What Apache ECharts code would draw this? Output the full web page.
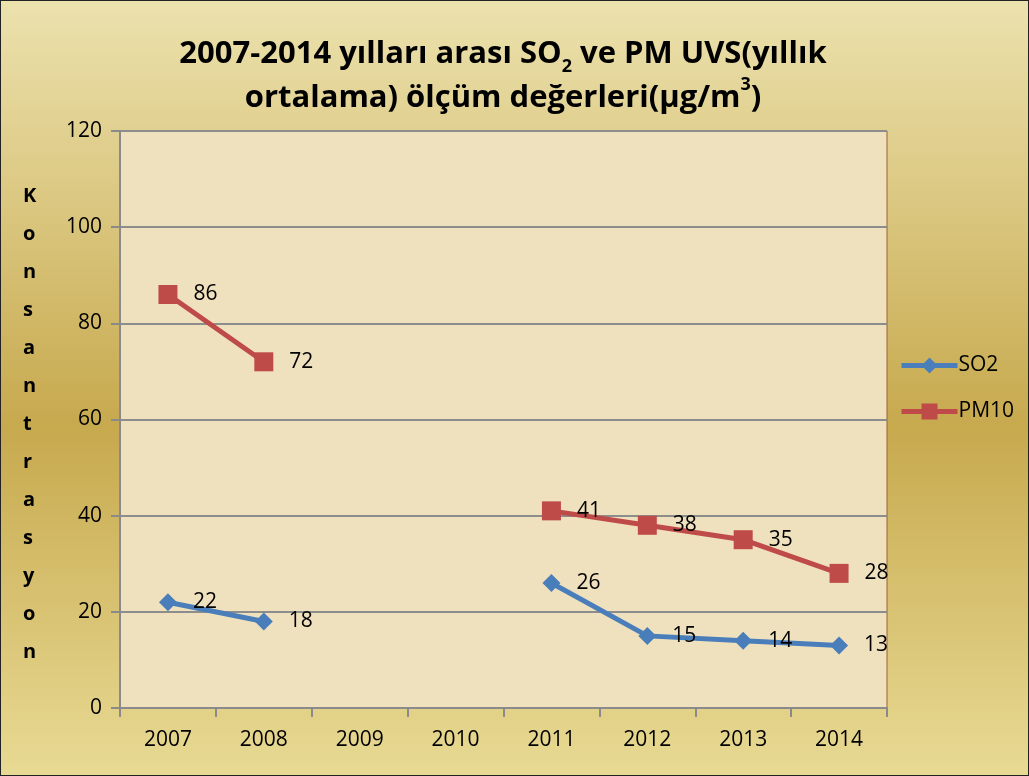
<!DOCTYPE html>
<html>
<head>
<meta charset="utf-8">
<script src="https://cdn.jsdelivr.net/npm/echarts@6/dist/echarts.min.js"></script>
<style>
html, body { margin: 0; padding: 0; }
#chart { width: 1029px; height: 776px; box-sizing: border-box; border: 1px solid #222; }
</style>
</head>
<body>
<div id="chart"></div>
<script>
// yıllar
const years = ['2007', '2008', '2009', '2010', '2011', '2012', '2013', '2014']
// yıllık ortalama değerler (µg/m3), ölçüm yok -> null
const so2 = [22, 18, null, null, 26, 15, 14, 13]
const pm10 = [86, 72, null, null, 41, 38, 35, 28]
const yAxisLetters = 'Konsantrasyon'.split('')

const myChart = echarts.init(document.getElementById('chart'))

const labelStyle = {
    show: true,
    position: 'right',
    distance: 16,
    color: '#000',
    fontSize: 21,
    fontFamily: 'Open Sans'
}

myChart.setOption({
    backgroundColor: {
        type: 'linear', x: 0, y: 0, x2: 0, y2: 1,
        colorStops: [
            { offset: 0, color: '#ece2ae' },
            { offset: 0.55, color: '#c7a94e' },
            { offset: 1, color: '#e8da94' }
        ]
    },
    title: {
        text: '2007-2014 yılları arası SO{sub|2} ve PM UVS(yıllık\nortalama) ölçüm değerleri(µg/m{sup|3})',
        left: 497,
        textAlign: 'center',
        top: 26,
        textStyle: {
            fontFamily: 'Open Sans',
            fontWeight: 'bold',
            fontSize: 31,
            lineHeight: 44,
            color: '#000',
            rich: {
                sub: { fontFamily: 'Open Sans', fontWeight: 'bold', fontSize: 18, verticalAlign: 'bottom', padding: [16, 0, 0, 0] },
                sup: { fontFamily: 'Open Sans', fontWeight: 'bold', fontSize: 18, verticalAlign: 'top', padding: [0, 0, 14, 0] }
            }
        }
    },
    legend: {
        orient: 'vertical',
        left: 893,
        top: 349,
        itemWidth: 56,
        itemHeight: 20,
        itemGap: 25,
        lineStyle: { width: 5 },
        textStyle: { fontFamily: 'Open Sans', fontSize: 21, color: '#000', padding: [0, 0, 0, -4] },
        data: ['SO2', 'PM10']
    },
    graphic: [{
        type: 'text',
        left: 22,
        top: 176,
        style: {
            text: yAxisLetters.join('\n'),
            fontFamily: 'Open Sans',
            fontWeight: 'bold',
            fontSize: 20,
            lineHeight: 38,
            align: 'center',
            fill: '#000'
        }
    }],
    grid: {
        left: 119,
        right: 141,
        top: 130,
        bottom: 67,
        show: true,
        backgroundColor: '#f0e1be',
        borderColor: '#a0602a',
        borderWidth: 1
    },
    xAxis: {
        type: 'category',
        data: years,
        boundaryGap: true,
        axisLine: { lineStyle: { color: '#8a8a8a', width: 2 } },
        axisTick: { show: true, length: 9, alignWithLabel: false, lineStyle: { color: '#8a8a8a', width: 2 } },
        axisLabel: { color: '#000', fontSize: 21, fontFamily: 'Open Sans', margin: 22 }
    },
    yAxis: {
        type: 'value',
        min: 0,
        max: 120,
        interval: 20,
        axisLine: { show: true, lineStyle: { color: '#8a8a8a', width: 2 } },
        axisTick: { show: true, length: 9, lineStyle: { color: '#8a8a8a', width: 2 } },
        axisLabel: { color: '#000', fontSize: 21, fontFamily: 'Open Sans', margin: 18 },
        splitLine: { lineStyle: { color: '#8d8d8d', width: 2 } }
    },
    series: [
        {
            name: 'SO2',
            type: 'line',
            data: so2,
            connectNulls: false,
            symbol: 'diamond',
            symbolSize: 18,
            color: '#4a7ebb',
            lineStyle: { width: 5, color: '#4a7ebb' },
            itemStyle: { color: '#4a7ebb' },
            label: labelStyle,
            z: 3
        },
        {
            name: 'PM10',
            type: 'line',
            data: pm10,
            connectNulls: false,
            symbol: 'rect',
            symbolSize: 19,
            color: '#be4b48',
            lineStyle: { width: 5, color: '#be4b48' },
            itemStyle: { color: '#be4b48' },
            label: labelStyle,
            z: 3
        }
    ]
})
</script>
</body>
</html>
